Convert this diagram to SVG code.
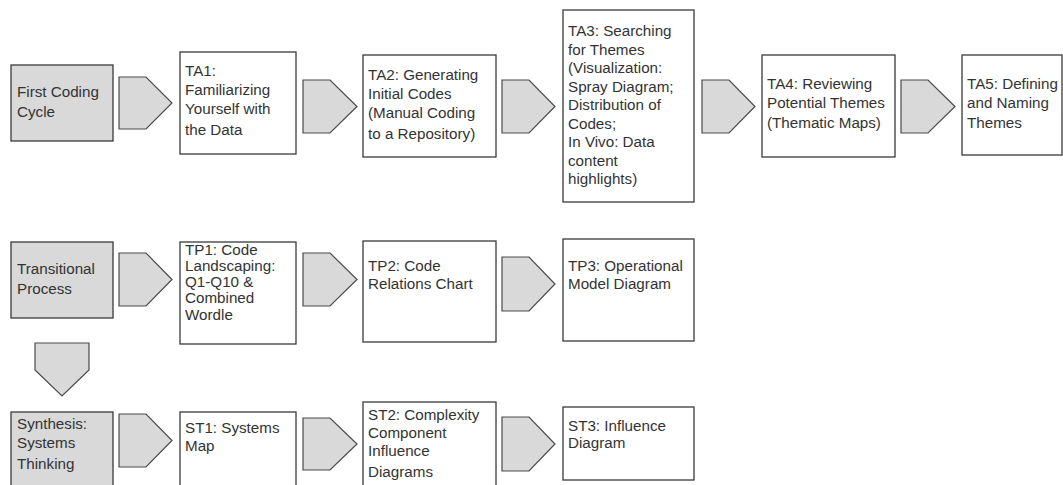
<svg xmlns="http://www.w3.org/2000/svg" width="1063" height="485" viewBox="0 0 1063 485">
<style>
.bx{fill:#ffffff;stroke:#3a3a3a;stroke-width:1.3}
.gb{fill:#d9d9d9;stroke:#3a3a3a;stroke-width:1.3}
.ar{fill:#d9d9d9;stroke:#4a4a4a;stroke-width:1.2}
text{font-family:"Liberation Sans",Arial,sans-serif;font-size:15.2px;fill:#333333}
</style>
<rect width="1063" height="485" fill="#ffffff"/>
<g id="connectors">
<polygon class="ar" points="119,77 146,77 172,103 146,129 119,129"/>
<polygon class="ar" points="303,80 330,80 357,106.5 330,133 303,133"/>
<polygon class="ar" points="502,80 529,80 555,106.5 529,133 502,133"/>
<polygon class="ar" points="702,80 729,80 755,106.5 729,133 702,133"/>
<polygon class="ar" points="901,80 928,80 955,106.5 928,133 901,133"/>
<polygon class="ar" points="119,253 146,253 172,279.5 146,306 119,306"/>
<polygon class="ar" points="303,253 330,253 357,279.5 330,306 303,306"/>
<polygon class="ar" points="502,257 529,257 555,284 529,311 502,311"/>
<polygon class="ar" points="35,343 89,343 89,370 62,396 35,370"/>
<polygon class="ar" points="119,414 146,414 172,440.5 146,467 119,467"/>
<polygon class="ar" points="303,418 330,418 357,444 330,470 303,470"/>
<polygon class="ar" points="502,417 529,417 555,444 529,471 502,471"/>
</g>
<g id="first-coding-cycle">
<rect class="gb" x="11" y="65" width="102" height="76"/>
<text x="17" y="97">First Coding</text>
<text x="17" y="117">Cycle</text>
</g>
<g id="ta1">
<rect class="bx" x="180" y="52" width="116" height="102"/>
<text x="185" y="76">TA1:</text>
<text x="185" y="95">Familiarizing</text>
<text x="185" y="114">Yourself with</text>
<text x="185" y="135">the Data</text>
</g>
<g id="ta2">
<rect class="bx" x="363" y="55" width="133" height="102"/>
<text x="368" y="80">TA2: Generating</text>
<text x="368" y="99">Initial Codes</text>
<text x="368" y="118">(Manual Coding</text>
<text x="368" y="139">to a Repository)</text>
</g>
<g id="ta3">
<rect class="bx" x="563" y="10" width="131" height="192"/>
<text x="568" y="36">TA3: Searching</text>
<text x="568" y="54.5">for Themes</text>
<text x="568" y="73">(Visualization:</text>
<text x="568" y="91.5">Spray Diagram;</text>
<text x="568" y="110">Distribution of</text>
<text x="568" y="128.5">Codes;</text>
<text x="568" y="147">In Vivo: Data</text>
<text x="568" y="165.5">content</text>
<text x="568" y="184">highlights)</text>
</g>
<g id="ta4">
<rect class="bx" x="762" y="55" width="133" height="102"/>
<text x="767" y="89">TA4: Reviewing</text>
<text x="767" y="108">Potential Themes</text>
<text x="767" y="128">(Thematic Maps)</text>
</g>
<g id="ta5">
<rect class="bx" x="962" y="55" width="100" height="100"/>
<text x="967" y="89">TA5: Defining</text>
<text x="967" y="108">and Naming</text>
<text x="967" y="128">Themes</text>
</g>
<g id="transitional-process">
<rect class="gb" x="11" y="242" width="102" height="76"/>
<text x="17" y="274">Transitional</text>
<text x="17" y="294">Process</text>
</g>
<g id="tp1">
<rect class="bx" x="180" y="242" width="116" height="102"/>
<text x="185" y="255">TP1: Code</text>
<text x="185" y="271">Landscaping:</text>
<text x="185" y="287">Q1-Q10 &amp;</text>
<text x="185" y="303">Combined</text>
<text x="185" y="320">Wordle</text>
</g>
<g id="tp2">
<rect class="bx" x="363" y="241" width="133" height="101"/>
<text x="368" y="271">TP2: Code</text>
<text x="368" y="289">Relations Chart</text>
</g>
<g id="tp3">
<rect class="bx" x="563" y="239" width="131" height="102"/>
<text x="568" y="271">TP3: Operational</text>
<text x="568" y="289">Model Diagram</text>
</g>
<g id="synthesis-systems-thinking">
<rect class="gb" x="11" y="412" width="102" height="80"/>
<text x="17" y="429">Synthesis:</text>
<text x="17" y="448">Systems</text>
<text x="17" y="469">Thinking</text>
</g>
<g id="st1">
<rect class="bx" x="180" y="412" width="116" height="80"/>
<text x="185" y="433">ST1: Systems</text>
<text x="185" y="451">Map</text>
</g>
<g id="st2">
<rect class="bx" x="363" y="402" width="133" height="90"/>
<text x="368" y="420">ST2: Complexity</text>
<text x="368" y="438">Component</text>
<text x="368" y="456">Influence</text>
<text x="368" y="477">Diagrams</text>
</g>
<g id="st3">
<rect class="bx" x="563" y="407" width="131" height="73"/>
<text x="568" y="431">ST3: Influence</text>
<text x="568" y="448">Diagram</text>
</g>
</svg>
